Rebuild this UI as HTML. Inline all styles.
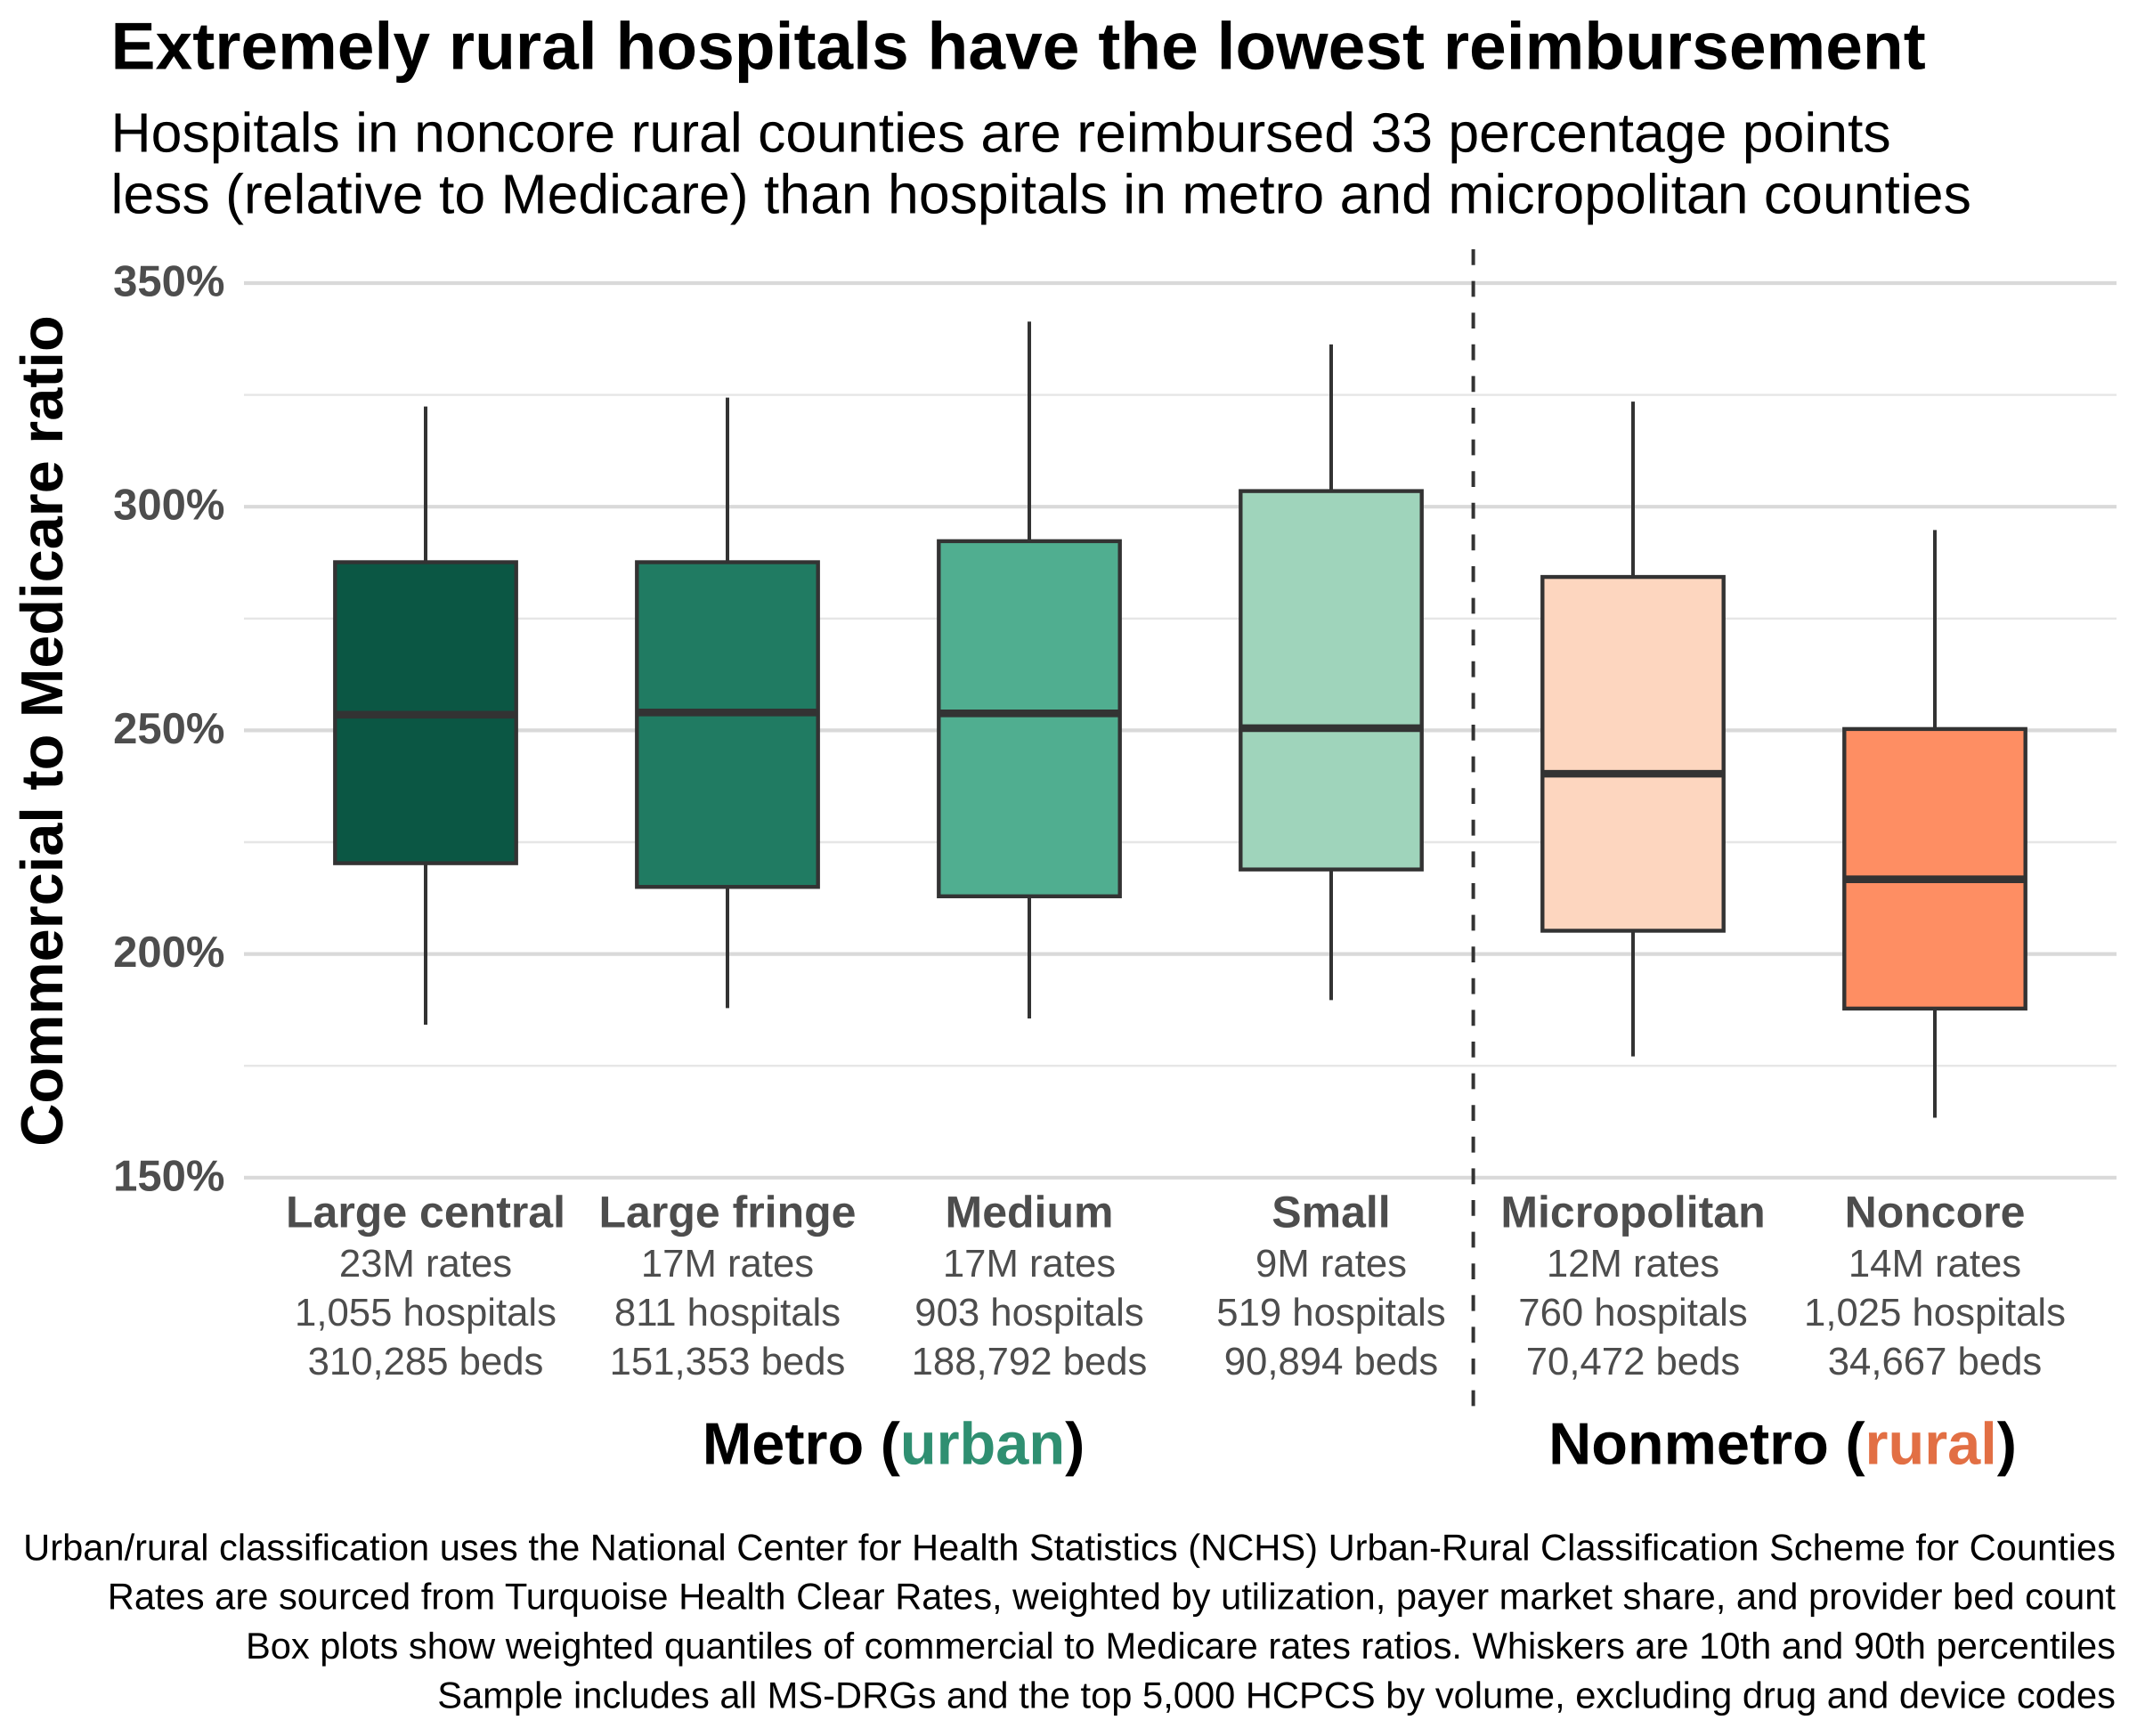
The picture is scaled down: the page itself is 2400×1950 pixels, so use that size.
<!DOCTYPE html>
<html lang="en">
<head>
<meta charset="utf-8">
<title>Extremely rural hospitals have the lowest reimbursement</title>
<style>
html,body{margin:0;padding:0;background:#fff;width:2400px;height:1950px;overflow:hidden}
svg{display:block}
text{font-family:"Liberation Sans",Arial,sans-serif;text-rendering:geometricPrecision}
</style>
</head>
<body>
<svg id="chart" xmlns="http://www.w3.org/2000/svg" width="2400" height="1950" viewBox="0 0 2400 1950">
  <rect x="0" y="0" width="2400" height="1950" fill="#ffffff"/>
  <text x="124.5" y="77.5" font-size="75" font-weight="700" fill="#000000">Extremely rural hospitals have the lowest reimbursement</text>
  <text x="124.5" y="170.5" font-size="62.55" fill="#000000">Hospitals in noncore rural counties are reimbursed 33 percentage points</text>
  <text x="124.5" y="239.5" font-size="62.55" fill="#000000">less (relative to Medicare) than hospitals in metro and micropolitan counties</text>
  <text transform="translate(70,821) rotate(-90)" text-anchor="middle" font-size="66.67" font-weight="700" fill="#000000">Commercial to Medicare ratio</text>
  <g id="grid"></g>
  <g id="yticks"></g>
  <g id="boxes"></g>
  <g id="cats"></g>
  <line x1="1654.6" y1="280" x2="1654.6" y2="1580" stroke="#333333" stroke-width="4" stroke-dasharray="17.8 17.8"/>
  <text x="1003.5" y="1644.5" text-anchor="middle" font-size="66.67" font-weight="700" fill="#000000">Metro (<tspan fill="#2f8f71">urban</tspan>)</text>
  <text x="2002" y="1644.5" text-anchor="middle" font-size="66.67" font-weight="700" fill="#000000">Nonmetro (<tspan fill="#e26f44">rural</tspan>)</text>
  <g font-size="41.67" fill="#000000" text-anchor="end">
    <text x="2376" y="1752.5">Urban/rural classification uses the National Center for Health Statistics (NCHS) Urban-Rural Classification Scheme for Counties</text>
    <text x="2376" y="1807.5">Rates are sourced from Turquoise Health Clear Rates, weighted by utilization, payer market share, and provider bed count</text>
    <text x="2376" y="1863">Box plots show weighted quantiles of commercial to Medicare rates ratios. Whiskers are 10th and 90th percentiles</text>
    <text x="2376" y="1918.5">Sample includes all MS-DRGs and the top 5,000 HCPCS by volume, excluding drug and device codes</text>
  </g>
</svg>
<script>
const categories = ["Large central","Large fringe","Medium","Small","Micropolitan","Noncore"];
const rates = ["23M rates","17M rates","17M rates","9M rates","12M rates","14M rates"];
const hospitals = ["1,055 hospitals","811 hospitals","903 hospitals","519 hospitals","760 hospitals","1,025 hospitals"];
const beds = ["310,285 beds","151,353 beds","188,792 beds","90,894 beds","70,472 beds","34,667 beds"];
const whiskerHigh = [322.4,324.4,341.4,336.3,323.5,294.8];
const q3 = [287.6,287.6,292.3,303.5,284.3,250.3];
const median = [253.5,254.0,253.8,250.5,240.3,216.7];
const q1 = [220.3,215.0,212.9,218.9,205.2,187.8];
const whiskerLow = [184.2,187.9,185.6,189.7,177.1,163.4];
const boxColors = ["#0b5744","#207b62","#50ae90","#9fd4bb","#fdd6bf","#fe8e63"];
const majorTicks = [150,200,250,300,350];
const minorTicks = [175,225,275,325];
const tickLabels = ["150%","200%","250%","300%","350%"];

const NS = "http://www.w3.org/2000/svg";
function yScale(v){ return 318 + (350 - v) * 5.024; }
function xScale(i){ return 478 + 339 * i; }
const BOX_W = 203.4;
const INK = "#333333";

function make(parent, tag, attrs, txt){
  const el = document.createElementNS(NS, tag);
  for (const k in attrs) el.setAttribute(k, attrs[k]);
  if (txt !== undefined) el.textContent = txt;
  parent.appendChild(el);
  return el;
}

const grid = document.getElementById("grid");
const yticks = document.getElementById("yticks");
const boxes = document.getElementById("boxes");
const cats = document.getElementById("cats");

minorTicks.forEach(function(v){
  const el = make(grid, "line", {x1:274, x2:2377, y1:yScale(v), y2:yScale(v), stroke:"#e6e6e6", "stroke-width":2.4});
  
  
});
majorTicks.forEach(function(v, i){
  const el = make(grid, "line", {x1:274, x2:2377, y1:yScale(v), y2:yScale(v), stroke:"#d9d9d9", "stroke-width":4.2});
  
  
  const t = make(yticks, "text", {x:252.5, y:yScale(v)+14.5, "text-anchor":"end", "font-size":49, "font-weight":700, fill:"#4d4d4d"}, tickLabels[i]);
  
  
});

categories.forEach(function(name, i){
  const cx = xScale(i);
  const g = make(boxes, "g", {});
  
  

  const wu = make(g, "line", {x1:cx, x2:cx, y1:yScale(whiskerHigh[i]), y2:yScale(q3[i]), stroke:INK, "stroke-width":4});
  
  

  const wl = make(g, "line", {x1:cx, x2:cx, y1:yScale(q1[i]), y2:yScale(whiskerLow[i]), stroke:INK, "stroke-width":4});
  
  

  const r = make(g, "rect", {x:cx-BOX_W/2, y:yScale(q3[i]), width:BOX_W, height:yScale(q1[i])-yScale(q3[i]), fill:boxColors[i], stroke:INK, "stroke-width":4.4});
  
  

  const m = make(g, "line", {x1:cx-BOX_W/2, x2:cx+BOX_W/2, y1:yScale(median[i]), y2:yScale(median[i]), stroke:INK, "stroke-width":8.6});
  
  

  const c = make(cats, "text", {x:cx, y:1378.5, "text-anchor":"middle", "font-size":50, "font-weight":700, fill:"#4d4d4d"}, name);
  
  

  const a = make(cats, "text", {x:cx, y:1434, "text-anchor":"middle", "font-size":43.7, fill:"#4d4d4d"}, rates[i]);
  
  

  const b = make(cats, "text", {x:cx, y:1489, "text-anchor":"middle", "font-size":43.7, fill:"#4d4d4d"}, hospitals[i]);
  
  

  const d = make(cats, "text", {x:cx, y:1544, "text-anchor":"middle", "font-size":43.7, fill:"#4d4d4d"}, beds[i]);
  
  
});
</script>
</body>
</html>
